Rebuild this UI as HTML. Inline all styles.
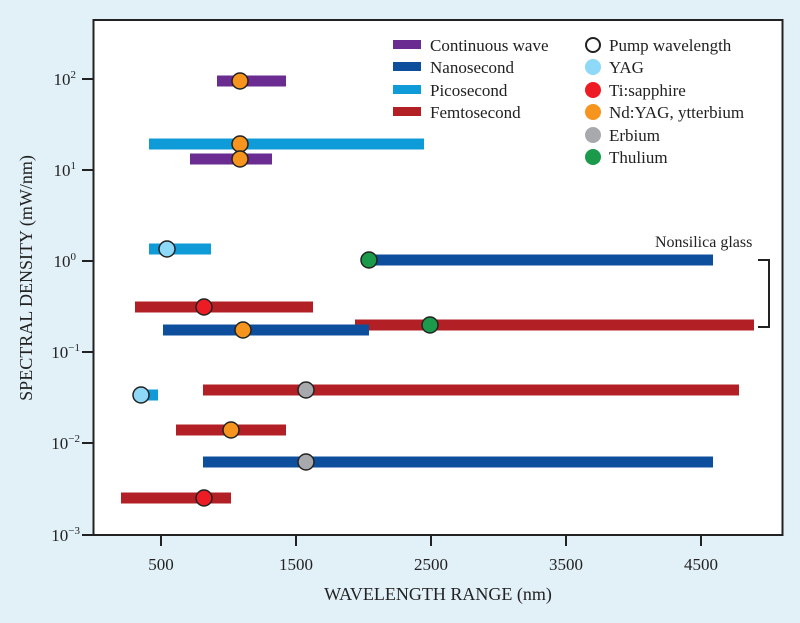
<!DOCTYPE html>
<html><head><meta charset="utf-8"><style>body{margin:0;background:#e2f0f8}</style></head><body>
<svg width="800" height="618" xmlns="http://www.w3.org/2000/svg" font-family="Liberation Serif, serif" fill="#222">
<rect width="800" height="618" fill="#e2f0f8"/>
<rect x="93.5" y="20" width="689" height="515" fill="#fff" stroke="#222" stroke-width="2"/>
<g stroke="#222" stroke-width="2">
<line x1="82" y1="79" x2="93" y2="79"/><line x1="82" y1="170" x2="93" y2="170"/><line x1="82" y1="261" x2="93" y2="261"/><line x1="82" y1="352" x2="93" y2="352"/><line x1="82" y1="443" x2="93" y2="443"/><line x1="82" y1="535" x2="93" y2="535"/>
<line x1="161" y1="535" x2="161" y2="546"/><line x1="296" y1="535" x2="296" y2="546"/><line x1="431" y1="535" x2="431" y2="546"/><line x1="566" y1="535" x2="566" y2="546"/><line x1="701" y1="535" x2="701" y2="546"/>
</g>
<g font-size="17" text-anchor="end">
<text x="76" y="85">10<tspan font-size="11" dy="-7">2</tspan></text>
<text x="76" y="176">10<tspan font-size="11" dy="-7">1</tspan></text>
<text x="76" y="267">10<tspan font-size="11" dy="-7">0</tspan></text>
<text x="80" y="358">10<tspan font-size="11" dy="-7">−1</tspan></text>
<text x="80" y="449">10<tspan font-size="11" dy="-7">−2</tspan></text>
<text x="80" y="541">10<tspan font-size="11" dy="-7">−3</tspan></text>
</g>
<g font-size="17" text-anchor="middle">
<text x="161" y="570">500</text><text x="296" y="570">1500</text><text x="431" y="570">2500</text><text x="566" y="570">3500</text><text x="701" y="570">4500</text>
<text x="438" y="600" font-size="18">WAVELENGTH RANGE (nm)</text>
<text transform="translate(32,278) rotate(-90)" font-size="18">SPECTRAL DENSITY (mW/nm)</text>
</g>
<g>
<rect x="217" y="75.5" width="69" height="11" fill="#6a2c91"/>
<rect x="149" y="138.5" width="275" height="11" fill="#0f9ad8"/>
<rect x="190" y="153.5" width="82" height="11" fill="#6a2c91"/>
<rect x="149" y="243.5" width="62" height="11" fill="#0f9ad8"/>
<rect x="369" y="254.5" width="344" height="11" fill="#0d4f9c"/>
<rect x="135" y="301.5" width="178" height="11" fill="#b22025"/>
<rect x="355" y="319.5" width="399" height="11" fill="#b22025"/>
<rect x="163" y="324.5" width="206" height="11" fill="#0d4f9c"/>
<rect x="141" y="389.5" width="17" height="11" fill="#0f9ad8"/>
<rect x="203" y="384.5" width="536" height="11" fill="#b22025"/>
<rect x="176" y="424.5" width="110" height="11" fill="#b22025"/>
<rect x="203" y="456.5" width="510" height="11" fill="#0d4f9c"/>
<rect x="121" y="492.5" width="110" height="11" fill="#b22025"/>
</g>
<g stroke="#222" stroke-width="1.5">
<circle cx="240" cy="81" r="8" fill="#f7941d"/>
<circle cx="240" cy="144" r="8" fill="#f7941d"/>
<circle cx="240" cy="159" r="8" fill="#f7941d"/>
<circle cx="167" cy="249" r="8" fill="#8ed8f8"/>
<circle cx="369" cy="260" r="8" fill="#1a9a4a"/>
<circle cx="204" cy="307" r="8" fill="#ed1c24"/>
<circle cx="430" cy="325" r="8" fill="#1a9a4a"/>
<circle cx="243" cy="330" r="8" fill="#f7941d"/>
<circle cx="141" cy="395" r="8" fill="#8ed8f8"/>
<circle cx="306" cy="390" r="8" fill="#a7a9ac"/>
<circle cx="231" cy="430" r="8" fill="#f7941d"/>
<circle cx="306" cy="462" r="8" fill="#a7a9ac"/>
<circle cx="204" cy="498" r="8" fill="#ed1c24"/>
</g>
<path d="M758 260 H769 V327 H758" fill="none" stroke="#222" stroke-width="2"/>
<text x="655" y="247" font-size="16">Nonsilica glass</text>
<g font-size="17">
<rect x="393" y="40" width="28" height="9" fill="#6a2c91"/><text x="430" y="51">Continuous wave</text>
<rect x="393" y="62" width="28" height="9" fill="#0d4f9c"/><text x="430" y="73">Nanosecond</text>
<rect x="393" y="85" width="28" height="9" fill="#0f9ad8"/><text x="430" y="96">Picosecond</text>
<rect x="393" y="107" width="28" height="9" fill="#b22025"/><text x="430" y="118">Femtosecond</text>
<circle cx="593" cy="45" r="7" fill="#fff" stroke="#222" stroke-width="2"/><text x="609" y="51">Pump wavelength</text>
<circle cx="593" cy="67" r="8" fill="#8ed8f8"/><text x="609" y="73">YAG</text>
<circle cx="593" cy="90" r="8" fill="#ed1c24"/><text x="609" y="96">Ti:sapphire</text>
<circle cx="593" cy="112" r="8" fill="#f7941d"/><text x="609" y="118">Nd:YAG, ytterbium</text>
<circle cx="593" cy="135" r="8" fill="#a7a9ac"/><text x="609" y="141">Erbium</text>
<circle cx="593" cy="157" r="8" fill="#1a9a4a"/><text x="609" y="163">Thulium</text>
</g>
</svg>
</body></html>
